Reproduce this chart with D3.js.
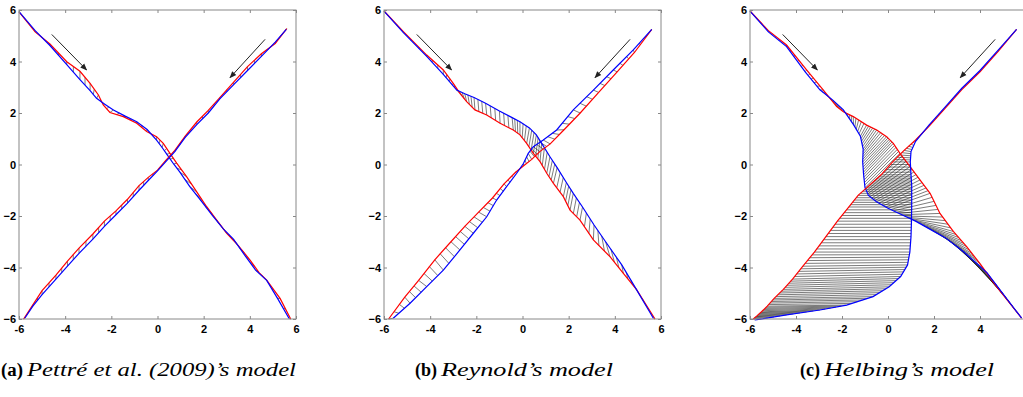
<!DOCTYPE html>
<html>
<head>
<meta charset="utf-8">
<script src="https://cdn.jsdelivr.net/npm/d3@7"></script>
<style>
  body { margin: 0; background: #fff; }
  .tick text { font-family: "Liberation Sans", Arial, sans-serif; font-weight: bold; font-size: 11px; fill: #000; }
</style>
</head>
<body>
<svg id="fig" width="1023" height="397"></svg>
<script>
// ---- data (time-synced samples, index i = same time step for red and blue) ----
const ticks = [-6, -4, -2, 0, 2, 4, 6];

// (a) Pettre
const aRedA = [[-6,5.93],[-5.3,5.15],[-4.66,4.68],[-3.93,3.99],[-3.36,3.62],[-2.92,3.15],[-2.56,2.7],[-2.35,2.31],[-2.06,2.02],[-1.48,1.86],[-0.9,1.6],[-0.47,1.28],[-0.04,1.08],[0.25,0.82],[0.54,0.43],[0.83,0.05],[1.26,-0.47],[1.7,-1.06],[2.13,-1.64],[2.6,-2.2],[3.0,-2.67],[3.5,-3.15],[4.01,-3.71],[4.4,-4.2],[4.73,-4.49],[5.31,-5.2],[5.77,-6.0]];
const aBlueA = [[-6,5.94],[-5.3,5.2],[-4.66,4.62],[-3.93,3.88],[-3.36,3.3],[-2.92,2.87],[-2.64,2.57],[-2.3,2.35],[-1.91,2.12],[-1.4,1.88],[-0.9,1.66],[-0.45,1.36],[-0.04,0.95],[0.2,0.66],[0.4,0.4],[0.7,0.02],[0.97,-0.3],[1.4,-0.86],[1.84,-1.35],[2.35,-1.95],[2.85,-2.5],[3.29,-2.9],[3.8,-3.55],[4.25,-4.1],[4.73,-4.5],[5.2,-5.2],[5.7,-5.98]];
const aRedB = [[5.6,5.28],[5.1,4.7],[4.5,4.3],[3.9,3.8],[3.3,3.2],[2.7,2.6],[2.2,2.1],[1.7,1.65],[1.2,1.1],[0.75,0.55],[0.35,0.15],[0.0,-0.22],[-0.4,-0.5],[-0.8,-0.82],[-1.3,-1.35],[-1.8,-1.8],[-2.3,-2.2],[-2.8,-2.7],[-3.4,-3.25],[-3.9,-3.75],[-4.4,-4.3],[-5.0,-4.9],[-5.4,-5.45],[-5.8,-6.0]];
const aBlueB = [[5.58,5.25],[5.1,4.75],[4.5,4.2],[3.9,3.65],[3.3,3.1],[2.7,2.55],[2.2,2.0],[1.7,1.55],[1.2,1.05],[0.75,0.5],[0.35,0.1],[0.0,-0.25],[-0.4,-0.62],[-0.8,-1.0],[-1.3,-1.5],[-1.8,-1.95],[-2.3,-2.4],[-2.8,-2.9],[-3.4,-3.45],[-3.9,-3.95],[-4.4,-4.45],[-5.0,-5.05],[-5.4,-5.5],[-5.75,-5.97]];

// (b) Reynolds
const bRedA = [[-6,5.96],[-5.16,5.16],[-4.15,4.25],[-3.43,3.67],[-3.0,3.15],[-2.71,2.76],[-2.42,2.44],[-2.06,2.12],[-1.55,1.92],[-0.97,1.6],[-0.4,1.34],[-0.11,1.15],[0.18,0.82],[0.47,0.43],[0.76,0.11],[1.05,-0.34],[1.34,-0.73],[1.77,-1.25],[2.06,-1.77],[2.49,-2.16],[3.07,-2.93],[3.79,-3.58],[4.37,-4.23],[4.95,-4.87],[5.74,-6.0]];
const bBlueA = [[-6,5.96],[-5.16,5.12],[-4.15,4.2],[-3.43,3.5],[-3.05,3.1],[-2.85,2.89],[-2.5,2.75],[-2.1,2.6],[-1.6,2.38],[-1.0,2.08],[-0.45,1.82],[-0.11,1.66],[0.3,1.42],[0.6,1.15],[0.83,0.82],[1.19,0.3],[1.5,-0.12],[1.9,-0.7],[2.2,-1.12],[2.6,-1.65],[3.1,-2.35],[3.6,-3.0],[4.3,-3.9],[4.9,-4.8],[5.67,-5.97]];
const bRedB = [[5.6,5.25],[4.85,4.35],[4.1,3.6],[3.3,2.8],[2.5,2.0],[1.8,1.35],[1.2,0.8],[0.75,0.5],[0.4,0.2],[0.05,-0.05],[-0.3,-0.3],[-0.8,-0.75],[-1.3,-1.3],[-1.9,-1.85],[-2.5,-2.4],[-3.1,-3.0],[-3.8,-3.7],[-4.5,-4.5],[-5.1,-5.15],[-5.8,-6.0]];
const bBlueB = [[5.6,5.25],[4.8,4.45],[3.93,3.67],[3.07,2.89],[2.2,2.12],[1.48,1.34],[0.9,0.95],[0.47,0.69],[0.25,0.43],[0.04,0.04],[-0.25,-0.34],[-0.69,-0.86],[-1.12,-1.38],[-1.55,-2.03],[-2.13,-2.67],[-2.71,-3.32],[-3.43,-4.1],[-4.15,-4.74],[-4.87,-5.39],[-5.6,-5.97]];

// (c) Helbing
const cRedA = [[-6,5.96],[-5.2,5.2],[-4.41,4.64],[-3.54,3.67],[-2.81,2.89],[-2.23,2.25],[-1.94,2.05],[-1.51,1.86],[-0.93,1.53],[-0.49,1.34],[-0.06,1.08],[0.23,0.82],[0.52,0.43],[0.96,-0.08],[1.39,-0.6],[1.83,-1.12],[2.26,-1.9],[2.84,-2.6],[3.42,-3.19],[4.0,-3.85],[4.72,-4.74],[5.3,-5.39],[5.81,-5.97]];
const cBlueA = [[-6,5.96],[-5.2,5.15],[-4.41,4.58],[-3.6,3.6],[-2.96,2.9],[-2.4,2.5],[-1.94,2.12],[-1.5,1.55],[-1.2,1.1],[-1.08,0.6],[-1.1,0.1],[-1.06,-0.4],[-1.0,-0.9],[-0.85,-1.2],[-0.5,-1.45],[0.0,-1.7],[0.6,-1.95],[1.2,-2.2],[1.8,-2.5],[2.5,-2.85],[3.3,-3.4],[4.3,-4.2],[5.81,-5.97]];
const cRedB = [[5.59,5.25],[4.8,4.4],[4.0,3.6],[3.2,2.9],[2.5,2.2],[1.8,1.5],[1.2,0.95],[0.7,0.55],[0.2,0.1],[-0.3,-0.4],[-0.8,-0.8],[-1.3,-1.2],[-1.7,-1.65],[-2.2,-2.2],[-2.7,-2.8],[-3.2,-3.4],[-3.7,-3.95],[-4.15,-4.45],[-4.55,-4.85],[-4.95,-5.2],[-5.25,-5.5],[-5.5,-5.72],[-5.7,-5.88],[-5.86,-6.0]];
const cBlueB = [[5.59,5.25],[4.8,4.45],[4.0,3.65],[3.2,2.95],[2.5,2.25],[1.8,1.55],[1.2,0.9],[1.0,0.5],[0.97,0.1],[1.0,-0.4],[1.03,-0.8],[1.03,-1.2],[1.03,-1.65],[1.02,-2.2],[1.0,-2.8],[0.95,-3.4],[0.85,-3.9],[0.55,-4.35],[0.05,-4.75],[-0.65,-5.13],[-1.8,-5.46],[-2.96,-5.65],[-4.41,-5.84],[-5.78,-6.04]];

// direction arrows (same in every panel)
const arrows = [[[-4.58,5.05],[-3.07,3.67]], [[4.66,4.86],[3.14,3.37]]];

const captionTags = ["(a)", "(b)", "(c)"];
const captionTexts = ["Pettré et al. (2009)’s model", "Reynold’s model", "Helbing’s model"];

// ---- layout ----
const svg = d3.select("#fig");
const plotTop = 10, plotH = 309;
const panels = [
  { left: 19,  w: 277, agents: [[aRedA, aBlueA], [aRedB, aBlueB]], sub: 2, capX: 1,   capW: [22, 269], lastLabel: true },
  { left: 384, w: 277, agents: [[bRedA, bBlueA], [bRedB, bBlueB]], sub: 3, capX: 415, capW: [22, 172], lastLabel: true },
  { left: 750, w: 276, agents: [[cRedA, cBlueA], [cRedB, cBlueB]], sub: 5, capX: 800, capW: [20, 170], lastLabel: false }
];

svg.append("defs").append("marker")
  .attr("id", "head")
  .attr("viewBox", "0 0 10 10")
  .attr("refX", 9).attr("refY", 5)
  .attr("markerWidth", 7).attr("markerHeight", 7)
  .attr("markerUnits", "userSpaceOnUse")
  .attr("orient", "auto")
  .append("path").attr("d", "M0,1L10,5L0,9Z").attr("fill", "#222");

// position on a track at time t; a track that has ended stays at its last point
function at(arr, t) {
  if (t >= arr.length - 1) return arr[arr.length - 1];
  const i = Math.floor(t);
  const f = t - i;
  return [arr[i][0] + (arr[i + 1][0] - arr[i][0]) * f, arr[i][1] + (arr[i + 1][1] - arr[i][1]) * f];
}

panels.forEach((p, k) => {
  const x = d3.scaleLinear().domain([-6, 6]).range([0, p.w]);
  const y = d3.scaleLinear().domain([-6, 6]).range([plotH, 0]);
  const g = svg.append("g").attr("transform", `translate(${p.left},${plotTop})`);

  // hatch between paired red / blue samples
  const hatch = g.append("g").attr("stroke", "#111").attr("stroke-width", 0.65).attr("stroke-opacity", 0.85);
  p.agents.forEach(([red, blue]) => {
    const n = Math.max(red.length, blue.length) - 1;
    for (let t = 0; t <= n + 1e-9; t += 1 / p.sub) {
      const a = at(red, t), b = at(blue, t);
      hatch.append("line")
        .attr("x1", x(a[0])).attr("y1", y(a[1]))
        .attr("x2", x(b[0])).attr("y2", y(b[1]));
    }
  });

  const line = d3.line().x(d => x(d[0])).y(d => y(d[1]));
  p.agents.forEach(([red, blue]) => {
    g.append("path").attr("d", line(red)).attr("fill", "none").attr("stroke", "#ff0000").attr("stroke-width", 1.2);
    g.append("path").attr("d", line(blue)).attr("fill", "none").attr("stroke", "#0000ff").attr("stroke-width", 1.2);
  });

  arrows.forEach(([s, e]) => {
    g.append("line")
      .attr("x1", x(s[0])).attr("y1", y(s[1]))
      .attr("x2", x(e[0])).attr("y2", y(e[1]))
      .attr("stroke", "#222").attr("stroke-width", 1)
      .attr("marker-end", "url(#head)");
  });

  // axes, MATLAB style: inward ticks on all four sides
  g.append("rect").attr("width", p.w).attr("height", plotH)
    .attr("fill", "none").attr("stroke", "#888");

  const styleAxis = sel => {
    sel.select(".domain").remove();
    sel.selectAll(".tick line").attr("stroke", "#888");
  };
  const xFmt = d => (!p.lastLabel && d === 6) ? "" : d;
  g.append("g").attr("transform", `translate(0,${plotH})`)
    .call(d3.axisBottom(x).tickValues(ticks).tickSize(-3).tickPadding(6).tickFormat(xFmt)).call(styleAxis);
  g.append("g")
    .call(d3.axisLeft(y).tickValues(ticks).tickSize(-3).tickPadding(3)).call(styleAxis);
  g.append("g")
    .call(d3.axisTop(x).tickValues(ticks).tickSize(-3).tickFormat("")).call(styleAxis);
  g.append("g").attr("transform", `translate(${p.w},0)`)
    .call(d3.axisRight(y).tickValues(ticks).tickSize(-3).tickFormat("")).call(styleAxis);

  // caption
  svg.append("text")
    .attr("x", p.capX).attr("y", 376)
    .attr("font-family", "Liberation Serif, serif").attr("font-weight", "bold").attr("font-size", 18)
    .attr("textLength", p.capW[0]).attr("lengthAdjust", "spacingAndGlyphs")
    .text(captionTags[k]);
  svg.append("text")
    .attr("x", p.capX + p.capW[0] + 4).attr("y", 376)
    .attr("font-family", "Liberation Serif, serif").attr("font-style", "italic").attr("font-size", 18)
    .attr("textLength", p.capW[1]).attr("lengthAdjust", "spacingAndGlyphs")
    .text(captionTexts[k]);
});
</script>
</body>
</html>
